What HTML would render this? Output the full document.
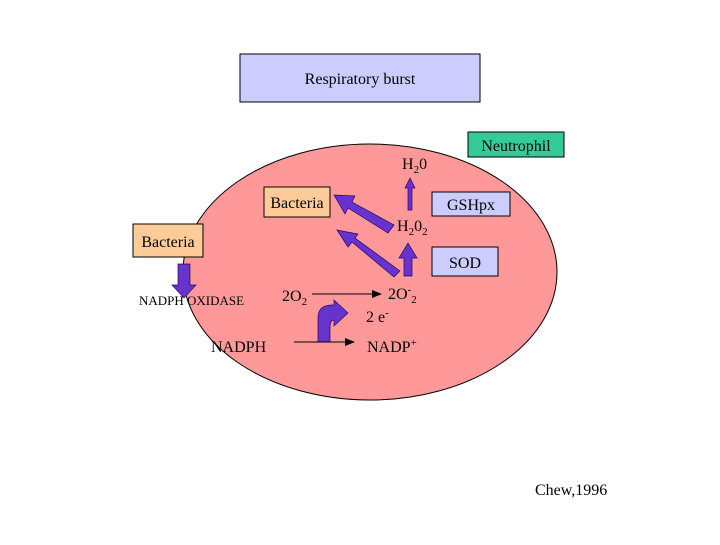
<!DOCTYPE html>
<html><head><meta charset="utf-8"><style>
body{margin:0;background:#fff}
svg text{font-family:"Liberation Serif",serif;fill:#000}
</style></head><body>
<svg width="720" height="540" viewBox="0 0 720 540">
<rect x="240" y="54" width="240" height="48" fill="#ccccff" stroke="#000"/>
<text x="360" y="84" font-size="16" text-anchor="middle">Respiratory burst</text>
<ellipse cx="370" cy="272" rx="187" ry="128" fill="#ff9999" stroke="#000"/>
<rect x="468" y="132" width="96" height="25" fill="#33cc99" stroke="#000"/>
<text x="516" y="151" font-size="16" text-anchor="middle">Neutrophil</text>
<text x="402" y="169" font-size="16">H<tspan font-size="11" dy="4">2</tspan><tspan dy="-4">0</tspan></text>
<rect x="264" y="187" width="66" height="30" fill="#ffcc99" stroke="#000"/>
<text x="297" y="208" font-size="16" text-anchor="middle">Bacteria</text>
<rect x="432" y="192" width="78" height="24" fill="#ccccff" stroke="#000"/>
<text x="471" y="210" font-size="16" text-anchor="middle">GSHpx</text>
<text x="397" y="231" font-size="16">H<tspan font-size="11" dy="4">2</tspan><tspan dy="-4">0</tspan><tspan font-size="11" dy="4">2</tspan></text>
<rect x="133" y="224" width="70" height="33" fill="#ffcc99" stroke="#000"/>
<text x="168" y="247" font-size="16" text-anchor="middle">Bacteria</text>
<rect x="432" y="247" width="66" height="29" fill="#ccccff" stroke="#000"/>
<text x="465" y="268" font-size="16" text-anchor="middle">SOD</text>
<g fill="#6633cc" stroke="#330066" stroke-width="0.7">
<polygon points="178,264 190,264 190,285 196,285 184,298 172,285 178,285"/>
<polygon points="394,225 388,233 348,208 345,214 334,195 355,196 352,202"/>
<polygon points="400,271 394,277 352,242 348,247 337,230 358,234 355,238"/>
<polygon points="404,276 412,276 412,258 417,258 408,243 399,258 404,258"/>
<polygon points="408,210 412,210 412,188 415,188 410,178 405,188 408,188"/>
<path d="M318,342 L318,318 Q318,305 332,305 L334,305 L334,300 L348,313 L334,326 L334,320 Q330,320 330,328 L330,342 Z"/>
</g>
<line x1="312" y1="294" x2="374" y2="294" stroke="#000"/>
<polygon points="382,294 372,290 372,298"/>
<line x1="294" y1="342" x2="347" y2="342" stroke="#000"/>
<polygon points="355,342 345,338 345,346"/>
<text x="139" y="305" font-size="13">NADPH OXIDASE</text>
<text x="282" y="301" font-size="16">2O<tspan font-size="11" dy="4">2</tspan></text>
<text x="388" y="299" font-size="16">2O<tspan font-size="11" dy="-6">-</tspan><tspan font-size="11" dy="10">2</tspan></text>
<text x="366" y="322" font-size="16">2 e<tspan font-size="11" dy="-6">-</tspan></text>
<text x="211" y="352" font-size="16">NADPH</text>
<text x="367" y="352" font-size="16">NADP<tspan font-size="11" dy="-6">+</tspan></text>
<text x="535" y="495" font-size="16">Chew,1996</text>
</svg>
</body></html>
